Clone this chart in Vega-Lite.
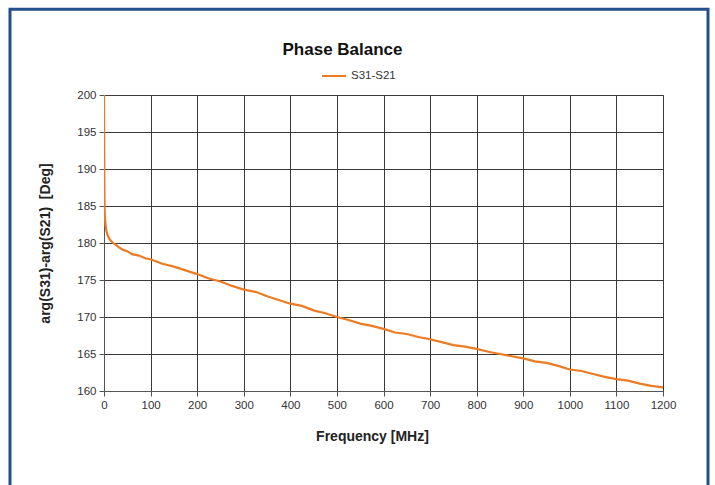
{
  "$schema": "https://vega.github.io/schema/vega-lite/v6.json",
  "width": 559,
  "height": 296,
  "autosize": {"type": "none"},
  "padding": {"left": 104, "top": 95, "right": 52, "bottom": 94},
  "background": "white",
  "title": {"text": "Phase Balance", "fontSize": 17, "font": "Liberation Sans", "fontWeight": "bold", "color": "#111", "anchor": "middle", "dx": -41, "offset": -51},
  "config": {"view": {"stroke": "#9a9a9a", "strokeWidth": 1}, "font": "Liberation Sans"},
  "layer": [
    {
      "data": {"values": [
        {"freq": 0, "deg": 200, "series": "S31-S21"},
        {"freq": 0.3, "deg": 195, "series": "S31-S21"},
        {"freq": 0.6, "deg": 190, "series": "S31-S21"},
        {"freq": 1, "deg": 186, "series": "S31-S21"},
        {"freq": 1.5, "deg": 184, "series": "S31-S21"},
        {"freq": 3, "deg": 182.6, "series": "S31-S21"},
        {"freq": 5, "deg": 181.7, "series": "S31-S21"},
        {"freq": 8, "deg": 181.0, "series": "S31-S21"},
        {"freq": 12, "deg": 180.5, "series": "S31-S21"},
        {"freq": 18, "deg": 180.1, "series": "S31-S21"},
        {"freq": 30, "deg": 179.5, "series": "S31-S21"},
        {"freq": 40, "deg": 179.1, "series": "S31-S21"},
        {"freq": 50, "deg": 178.9, "series": "S31-S21"},
        {"freq": 60, "deg": 178.5, "series": "S31-S21"},
        {"freq": 75, "deg": 178.3, "series": "S31-S21"},
        {"freq": 90, "deg": 177.9, "series": "S31-S21"},
        {"freq": 100, "deg": 177.8, "series": "S31-S21"},
        {"freq": 125, "deg": 177.2, "series": "S31-S21"},
        {"freq": 150, "deg": 176.8, "series": "S31-S21"},
        {"freq": 175, "deg": 176.3, "series": "S31-S21"},
        {"freq": 200, "deg": 175.8, "series": "S31-S21"},
        {"freq": 225, "deg": 175.2, "series": "S31-S21"},
        {"freq": 250, "deg": 174.8, "series": "S31-S21"},
        {"freq": 275, "deg": 174.2, "series": "S31-S21"},
        {"freq": 300, "deg": 173.7, "series": "S31-S21"},
        {"freq": 325, "deg": 173.4, "series": "S31-S21"},
        {"freq": 350, "deg": 172.8, "series": "S31-S21"},
        {"freq": 375, "deg": 172.3, "series": "S31-S21"},
        {"freq": 400, "deg": 171.8, "series": "S31-S21"},
        {"freq": 425, "deg": 171.5, "series": "S31-S21"},
        {"freq": 450, "deg": 170.9, "series": "S31-S21"},
        {"freq": 475, "deg": 170.5, "series": "S31-S21"},
        {"freq": 500, "deg": 170.0, "series": "S31-S21"},
        {"freq": 525, "deg": 169.6, "series": "S31-S21"},
        {"freq": 550, "deg": 169.1, "series": "S31-S21"},
        {"freq": 575, "deg": 168.8, "series": "S31-S21"},
        {"freq": 600, "deg": 168.4, "series": "S31-S21"},
        {"freq": 625, "deg": 167.9, "series": "S31-S21"},
        {"freq": 650, "deg": 167.7, "series": "S31-S21"},
        {"freq": 675, "deg": 167.3, "series": "S31-S21"},
        {"freq": 700, "deg": 167.0, "series": "S31-S21"},
        {"freq": 725, "deg": 166.6, "series": "S31-S21"},
        {"freq": 750, "deg": 166.2, "series": "S31-S21"},
        {"freq": 775, "deg": 166.0, "series": "S31-S21"},
        {"freq": 800, "deg": 165.7, "series": "S31-S21"},
        {"freq": 825, "deg": 165.3, "series": "S31-S21"},
        {"freq": 850, "deg": 165.0, "series": "S31-S21"},
        {"freq": 875, "deg": 164.7, "series": "S31-S21"},
        {"freq": 900, "deg": 164.4, "series": "S31-S21"},
        {"freq": 925, "deg": 164.0, "series": "S31-S21"},
        {"freq": 950, "deg": 163.8, "series": "S31-S21"},
        {"freq": 975, "deg": 163.4, "series": "S31-S21"},
        {"freq": 1000, "deg": 162.9, "series": "S31-S21"},
        {"freq": 1025, "deg": 162.7, "series": "S31-S21"},
        {"freq": 1050, "deg": 162.3, "series": "S31-S21"},
        {"freq": 1075, "deg": 161.9, "series": "S31-S21"},
        {"freq": 1100, "deg": 161.6, "series": "S31-S21"},
        {"freq": 1125, "deg": 161.4, "series": "S31-S21"},
        {"freq": 1150, "deg": 161.0, "series": "S31-S21"},
        {"freq": 1175, "deg": 160.7, "series": "S31-S21"},
        {"freq": 1200, "deg": 160.5, "series": "S31-S21"}
      ]},
      "mark": {"type": "line", "strokeWidth": 2.2, "clip": true},
      "encoding": {
        "x": {"field": "freq", "type": "quantitative",
          "scale": {"domain": [0, 1200], "nice": false},
          "axis": {"title": "Frequency [MHz]", "values": [0,100,200,300,400,500,600,700,800,900,1000,1100,1200], "format": "d",
            "grid": true, "gridColor": "#3a3a3a", "gridOpacity": 1, "domainColor": "#555", "tickColor": "#555",
            "tickSize": 5, "labelFontSize": 11.5, "labelColor": "#333", "labelPadding": 3, "labelFlush": false, "labelOverlap": false,
            "titleFontSize": 14, "titleFontWeight": "bold", "titleColor": "#222", "titlePadding": 19, "titleX": 268}},
        "y": {"field": "deg", "type": "quantitative",
          "scale": {"domain": [160, 200], "nice": false, "zero": false},
          "axis": {"title": "arg(S31)-arg(S21) \u00a0[Deg]", "values": [160,165,170,175,180,185,190,195,200], "format": "d",
            "grid": true, "gridColor": "#3a3a3a", "gridOpacity": 1, "domainColor": "#555", "tickColor": "#555",
            "tickSize": 5, "labelFontSize": 11.5, "labelColor": "#333", "labelPadding": 3, "labelFlush": false, "labelOverlap": false,
            "titleFontSize": 14, "titleFontWeight": "bold", "titleColor": "#222", "titlePadding": 24}},
        "color": {"field": "series", "type": "nominal", "scale": {"range": ["#ee7a22"]},
          "legend": {"orient": "none", "legendX": 217, "legendY": -32, "title": null, "symbolType": "stroke",
            "symbolSize": 576, "symbolStrokeWidth": 2, "labelFontSize": 11.5, "labelColor": "#333", "padding": 0, "labelOffset": 4}}
      }
    },
    {
      "data": {"values": [{}]},
      "mark": {"type": "rect", "filled": false, "stroke": "#234f8a", "strokeWidth": 3},
      "encoding": {
        "x": {"datum": -201.8, "type": "quantitative",
          "axis": {"title": "Frequency [MHz]", "values": [0,100,200,300,400,500,600,700,800,900,1000,1100,1200], "format": "d",
            "grid": true, "gridColor": "#3a3a3a", "gridOpacity": 1, "domainColor": "#555", "tickColor": "#555",
            "tickSize": 5, "labelFontSize": 11.5, "labelColor": "#333", "labelPadding": 3, "labelFlush": false, "labelOverlap": false,
            "titleFontSize": 14, "titleFontWeight": "bold", "titleColor": "#222", "titlePadding": 19, "titleX": 268}},
        "x2": {"datum": 1296.6},
        "y": {"datum": 211.6, "type": "quantitative",
          "axis": {"title": "arg(S31)-arg(S21) \u00a0[Deg]", "values": [160,165,170,175,180,185,190,195,200], "format": "d",
            "grid": true, "gridColor": "#3a3a3a", "gridOpacity": 1, "domainColor": "#555", "tickColor": "#555",
            "tickSize": 5, "labelFontSize": 11.5, "labelColor": "#333", "labelPadding": 3, "labelFlush": false, "labelOverlap": false,
            "titleFontSize": 14, "titleFontWeight": "bold", "titleColor": "#222", "titlePadding": 24}},
        "y2": {"datum": 146}
      }
    }
  ]
}
